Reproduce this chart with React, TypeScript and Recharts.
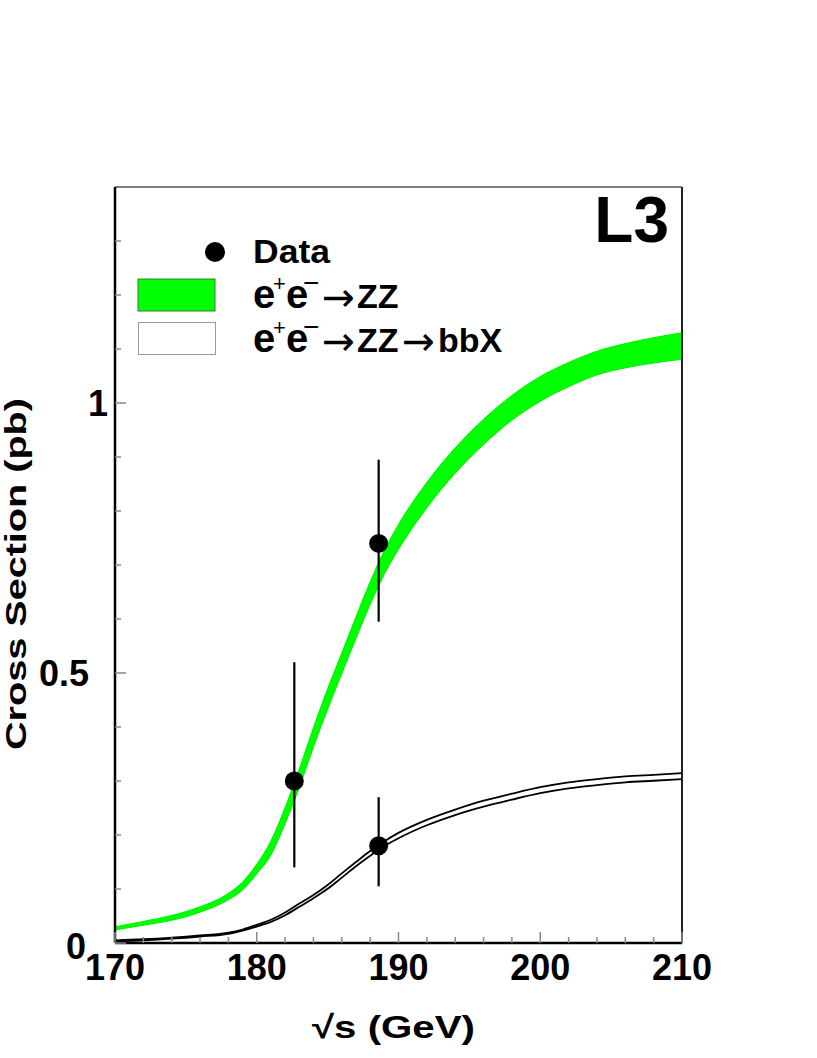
import React from 'react';
import {
  ComposedChart,
  Area,
  Line,
  Scatter,
  ErrorBar,
  XAxis,
  YAxis,
  ReferenceLine,
} from 'recharts';

const FONT = '"Liberation Sans", Arial, Helvetica, sans-serif';
const ARROW_FONT = '"DejaVu Sans", sans-serif';

// sqrt(s) grid for the theory curves (GeV)
const energies = [170, 172, 174, 176, 178, 179, 180, 181, 182, 183, 184, 185, 186, 187, 188, 189, 190, 192, 194, 196, 198, 200, 202, 204, 206, 208, 210];

// e+e- -> ZZ band (pb)
const zzLow = [0.024, 0.033, 0.042, 0.057, 0.080, 0.098, 0.128, 0.163, 0.221, 0.288, 0.363, 0.433, 0.499, 0.564, 0.627, 0.683, 0.729, 0.806, 0.870, 0.923, 0.968, 1.003, 1.030, 1.052, 1.065, 1.074, 1.081];
const zzHigh = [0.030, 0.040, 0.051, 0.067, 0.092, 0.113, 0.146, 0.189, 0.251, 0.322, 0.399, 0.471, 0.537, 0.604, 0.669, 0.727, 0.775, 0.853, 0.917, 0.970, 1.014, 1.049, 1.075, 1.096, 1.110, 1.121, 1.130];

// e+e- -> ZZ -> bbX band (pb)
const bbLow = [0.003, 0.005, 0.008, 0.012, 0.017, 0.023, 0.0305, 0.039, 0.0515, 0.067, 0.083, 0.1005, 0.121, 0.142, 0.1615, 0.1795, 0.194, 0.218, 0.237, 0.2525, 0.2655, 0.2775, 0.2865, 0.2925, 0.2975, 0.3005, 0.3035];
const bbHigh = [0.005, 0.007, 0.010, 0.014, 0.019, 0.025, 0.0335, 0.043, 0.0565, 0.073, 0.089, 0.1075, 0.129, 0.150, 0.1705, 0.1885, 0.204, 0.228, 0.247, 0.2635, 0.2765, 0.2885, 0.2975, 0.3035, 0.3085, 0.3115, 0.3145];

// measurements
const pointEnergy = [182.65, 188.6, 188.6];
const pointXsec = [0.30, 0.74, 0.18];
const pointErrLow = [0.16, 0.145, 0.075];
const pointErrHigh = [0.22, 0.155, 0.09];

// axes
const xTicks = [170, 172, 174, 176, 178, 180, 182, 184, 186, 188, 190, 192, 194, 196, 198, 200, 202, 204, 206, 208, 210];
const xLabels = [170, 180, 190, 200, 210];
const yTicks = [0, 0.1, 0.2, 0.3, 0.4, 0.5, 0.6, 0.7, 0.8, 0.9, 1, 1.1, 1.2, 1.3];
const yLabels = [0, 0.5, 1];

const curves = energies.map((s, i) => ({
  s,
  zz: [zzLow[i], zzHigh[i]],
  bbLow: bbLow[i],
  bbHigh: bbHigh[i],
}));

const points = pointEnergy.map((s, i) => ({
  s,
  y: pointXsec[i],
  err: [pointErrLow[i], pointErrHigh[i]],
}));

function XTick({ x, y, payload }: any) {
  const major = xLabels.includes(payload.value);
  return (
    <g>
      <line x1={x} x2={x} y1={y} y2={y - (major ? 11 : 6)} stroke="#888" strokeWidth={1.5} />
      {major && (
        <text x={x} y={y + 37} textAnchor="middle" fontFamily={FONT} fontWeight="bold" fontSize={36} fill="#000">
          {payload.value}
        </text>
      )}
    </g>
  );
}

// ROOT puts the "1" right up against the axis, the others further out
function YTick({ x, y, payload }: any) {
  const v = payload.value;
  const major = yLabels.includes(v);
  const dx = v === 1 ? -7 : v === 0 ? -29 : -26;
  const dy = v === 0 ? 16 : 13;
  return (
    <g>
      <line x1={x} x2={x + (major ? 11 : 6)} y1={y} y2={y} stroke="#888" strokeWidth={1.5} />
      {major && (
        <text x={x + dx} y={y + dy} textAnchor="end" fontFamily={FONT} fontWeight="bold" fontSize={36} fill="#000">
          {String(v)}
        </text>
      )}
    </g>
  );
}

function DataDot({ cx, cy }: any) {
  return <circle cx={cx} cy={cy} r={9.5} fill="#000" />;
}

function Arrow({ x, y }: { x: number; y: number }) {
  return (
    <text x={x} y={y + 8} fontFamily={ARROW_FONT} fontWeight="normal" fontSize={40} textLength={33} lengthAdjust="spacingAndGlyphs">
      →
    </text>
  );
}

function Reaction({ x, y, bb }: { x: number; y: number; bb?: boolean }) {
  return (
    <g fontFamily={FONT} fontWeight="bold" fill="#000">
      <text x={x} y={y} fontSize={40}>e</text>
      <text x={x + 20} y={y - 17} fontSize={22} fontWeight="normal">+</text>
      <text x={x + 33} y={y} fontSize={40}>e</text>
      <text x={x + 50} y={y - 16} fontSize={28} fontWeight="normal">−</text>
      <Arrow x={x + 69} y={y - 5} />
      <text x={x + 104} y={y} fontSize={34}>ZZ</text>
      {bb && <Arrow x={x + 149} y={y - 5} />}
      {bb && <text x={x + 185} y={y} fontSize={34}>bbX</text>}
    </g>
  );
}

export default function App() {
  return (
    <div style={{ position: 'absolute', left: 0, top: 0, width: 817, height: 1058, background: '#fff' }}>
      <ComposedChart
        width={817}
        height={1058}
        data={curves}
        margin={{ top: 187, right: 135, bottom: 55, left: 55 }}
      >
        <XAxis
          type="number"
          dataKey="s"
          domain={[170, 210]}
          ticks={xTicks}
          interval={0}
          tickSize={0}
          tickMargin={0}
          tickLine={false}
          tick={(p: any) => <XTick {...p} />}
          axisLine={{ stroke: '#000', strokeWidth: 2.5 }}
          height={60}
          allowDataOverflow
        />
        <YAxis
          type="number"
          domain={[0, 1.4]}
          ticks={yTicks}
          interval={0}
          tickSize={0}
          tickMargin={0}
          tickLine={false}
          tick={(p: any) => <YTick {...p} />}
          axisLine={{ stroke: '#000', strokeWidth: 2.5 }}
          width={60}
          allowDataOverflow
        />
        <ReferenceLine y={1.4} stroke="#555" strokeWidth={1.5} />
        <ReferenceLine x={210} stroke="#222" strokeWidth={2} />

        <Area
          type="monotone"
          dataKey="zz"
          fill="#00ff00"
          fillOpacity={1}
          stroke="#00f000"
          strokeWidth={1}
          dot={false}
          activeDot={false}
          isAnimationActive={false}
        />
        <Line type="monotone" dataKey="bbLow" stroke="#000" strokeWidth={1.8} dot={false} activeDot={false} isAnimationActive={false} />
        <Line type="monotone" dataKey="bbHigh" stroke="#000" strokeWidth={1.8} dot={false} activeDot={false} isAnimationActive={false} />

        <Scatter data={points} dataKey="y" fill="#000" shape={(p: any) => <DataDot {...p} />} isAnimationActive={false}>
          <ErrorBar dataKey="err" direction="y" width={0} stroke="#000" strokeWidth={2.2} />
        </Scatter>
      </ComposedChart>

      <svg
        width={817}
        height={1058}
        style={{ position: 'absolute', left: 0, top: 0, pointerEvents: 'none' }}
      >
        <text x={669} y={242} textAnchor="end" fontFamily={FONT} fontWeight="bold" fontSize={64} fill="#000">
          L3
        </text>

        {/* legend */}
        <circle cx={215} cy={252} r={10} fill="#000" />
        <text x={253} y={263} fontFamily={FONT} fontWeight="bold" fontSize={33} textLength={77} lengthAdjust="spacingAndGlyphs" fill="#000">
          Data
        </text>
        <rect x={138} y={279} width={77} height={32} fill="#00ff00" stroke="#3a7a3a" strokeWidth={1} />
        <Reaction x={253} y={308} />
        <rect x={138.5} y={322.5} width={77} height={32} fill="#fff" stroke="#999" strokeWidth={1} />
        <Reaction x={253} y={352} bb />

        {/* axis titles */}
        <text x={312} y={1038} fontFamily={FONT} fontWeight="bold" fontSize={32} textLength={163} lengthAdjust="spacingAndGlyphs" fill="#000">
          √s (GeV)
        </text>
        <text
          x={0}
          y={0}
          transform="translate(26 574) rotate(-90)"
          textAnchor="middle"
          fontFamily={FONT}
          fontWeight="bold"
          fontSize={30}
          textLength={352}
          lengthAdjust="spacingAndGlyphs"
          fill="#000"
        >
          Cross Section (pb)
        </text>
      </svg>
    </div>
  );
}
